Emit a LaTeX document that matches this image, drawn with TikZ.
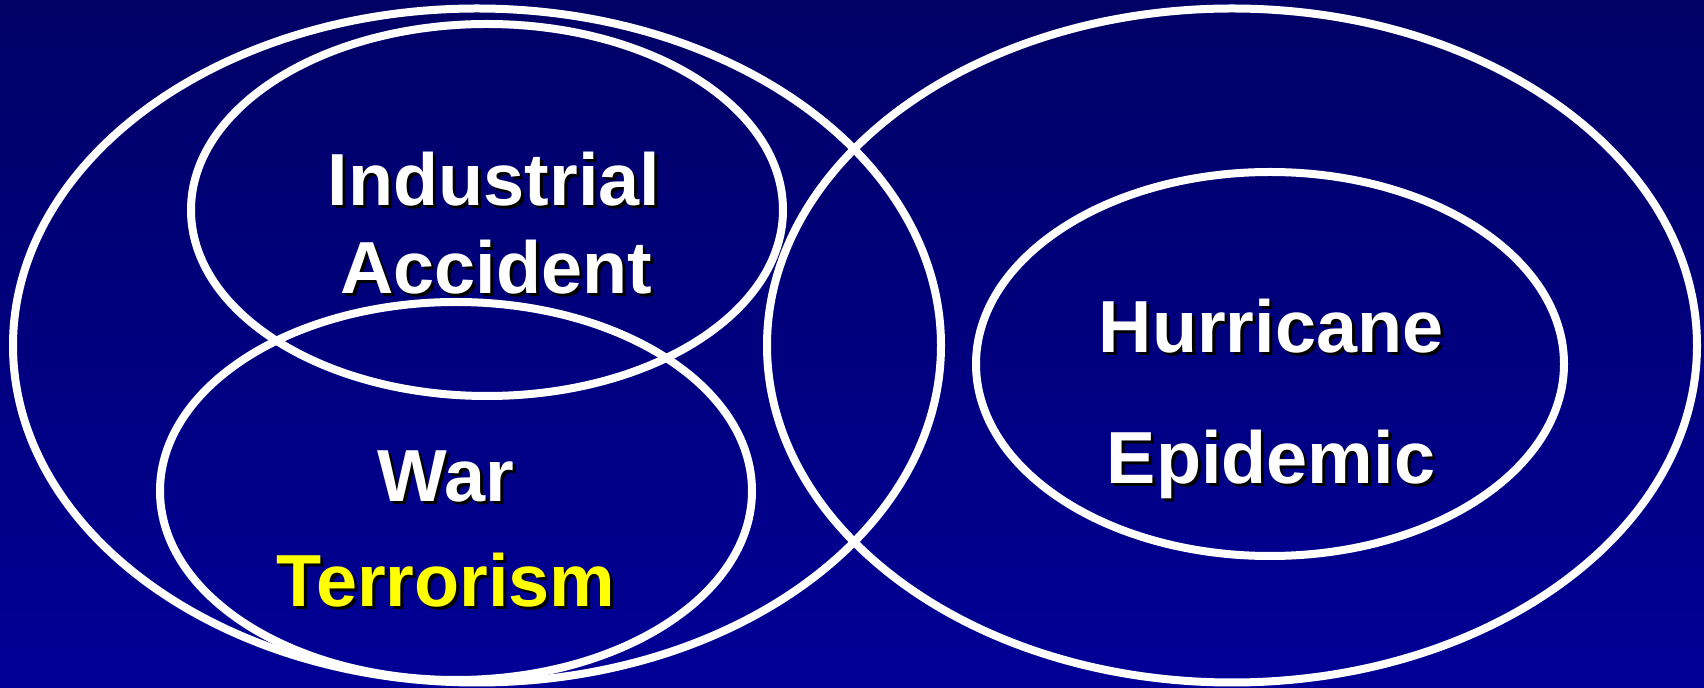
\documentclass[tikz,border=0pt]{standalone}
\usepackage{fontspec}
\setmainfont{Liberation Sans}
\usepackage{tikz}
\usetikzlibrary{calc}

\definecolor{bgtop}{HTML}{000066}
\definecolor{bgbot}{HTML}{000096}
\definecolor{terryellow}{HTML}{FFFF00}

% text with a black drop shadow
\newcommand{\vennlabel}[4]{%
  \node[lbl, text=black] (#1s) at ($(#2)+(3,3)$) {#4};
  \node[lbl, text=#3] (#1) at (#2) {#4};}

\begin{document}
\begin{tikzpicture}[x=0.02cm,y=-0.02cm,
    ring/.style={draw=white, line width=0.16cm},
    lbl/.style={anchor=base, inner sep=0pt, font=\fontsize{42}{50}\selectfont\bfseries}]
        \shade[top color=bgtop, bottom color=bgbot] (0,0) rectangle (1704,688);
        \useasboundingbox (0,0) rectangle (1704,688);
        % outer sets
        \draw[ring] (477,345.5) ellipse [x radius=464, y radius=337];
        \draw[ring] (1232,345.5) ellipse [x radius=465, y radius=337];
        % inner sets
        \draw[ring] (487,210) ellipse [x radius=296, y radius=186];
        \draw[ring] (456,491) ellipse [x radius=296, y radius=189];
        \draw[ring] (1270,364) ellipse [x radius=294, y radius=192];
        \vennlabel{ind}{494,206}{white}{Industrial}
        \vennlabel{acc}{496,294}{white}{Accident}
        \vennlabel{war}{446,502}{white}{War}
        \vennlabel{ter}{446,607}{terryellow}{Terrorism}
        \vennlabel{hur}{1271,353}{white}{Hurricane}
        \vennlabel{epi}{1271,484}{white}{Epidemic}
    \end{tikzpicture}
\end{document}
